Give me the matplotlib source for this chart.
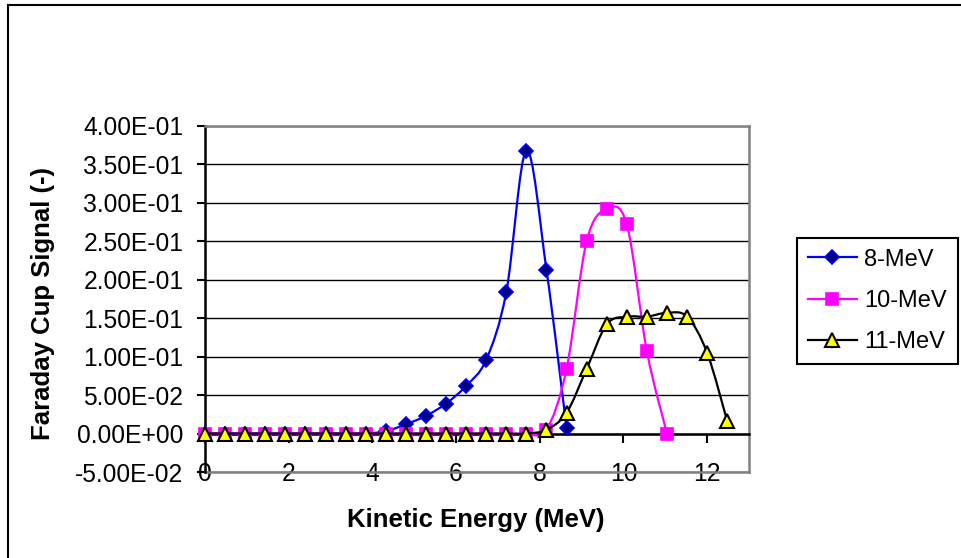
import matplotlib
matplotlib.use("Agg")
import matplotlib.pyplot as plt
from matplotlib.path import Path
from matplotlib.patches import PathPatch, Rectangle
from matplotlib.lines import Line2D

plt.rcParams['font.family'] = ['Liberation Sans', 'DejaVu Sans']

# kinetic energy bins (MeV)
energy = [0.00, 0.48, 0.96, 1.44, 1.92, 2.40, 2.88, 3.36, 3.84, 4.32,
          4.80, 5.28, 5.76, 6.24, 6.72, 7.20, 7.68, 8.16, 8.64, 9.12,
          9.60, 10.08, 10.56, 11.04, 11.52, 12.00, 12.48]

signal_8mev = [0, 0, 0, 0, 0, 0, 0, 0, 0, 0.003,
               0.012, 0.023, 0.039, 0.062, 0.096, 0.184, 0.368, 0.213, 0.0075]
signal_10mev = [0, 0, 0, 0, 0, 0, 0, 0, 0, 0,
                0, 0, 0, 0, 0, 0, 0, 0.005, 0.084, 0.250,
                0.292, 0.272, 0.107, 0.0]
signal_11mev = [0, 0, 0, 0, 0, 0, 0, 0, 0, 0,
                0, 0, 0, 0, 0, 0, 0, 0.005, 0.027, 0.084,
                0.142, 0.152, 0.152, 0.157, 0.152, 0.105, 0.016]

series_names = ['8-MeV', '10-MeV', '11-MeV']

x_ticks = [0, 2, 4, 6, 8, 10, 12]
y_ticks = [-0.05, 0.0, 0.05, 0.10, 0.15, 0.20, 0.25, 0.30, 0.35, 0.40]
y_tick_labels = ['-5.00E-02', '0.00E+00', '5.00E-02', '1.00E-01', '1.50E-01',
                 '2.00E-01', '2.50E-01', '3.00E-01', '3.50E-01', '4.00E-01']


def smooth_path(xs, ys):
    # excel-like smoothed line: cubic bezier through every point
    pts = list(zip(xs, ys))
    n = len(pts)
    verts = [pts[0]]
    codes = [Path.MOVETO]
    for i in range(n - 1):
        p0 = pts[i - 1] if i > 0 else pts[i]
        p1 = pts[i]
        p2 = pts[i + 1]
        p3 = pts[i + 2] if i + 2 < n else pts[i + 1]
        c1 = (p1[0] + (p2[0] - p0[0]) / 6, p1[1] + (p2[1] - p0[1]) / 6)
        c2 = (p2[0] - (p3[0] - p1[0]) / 6, p2[1] - (p3[1] - p1[1]) / 6)
        verts += [c1, c2, p2]
        codes += [Path.CURVE4] * 3
    return Path(verts, codes)


fig = plt.figure(figsize=(9.61, 5.58), dpi=100)
ax = fig.add_axes([205 / 961, 1 - 472 / 558, 544 / 961, 346 / 558])

styles = [
    dict(color='#0000FF', marker='D', ms=7.5, mfc='#000080', mec='#0000FF', mew=1.2),
    dict(color='#FF00FF', marker='s', ms=8.5, mfc='#FF00FF', mec='#FF00FF', mew=1.2),
    dict(color='#000000', marker='^', ms=10, mfc='#FFFF00', mec='#000000', mew=1.5),
]
all_series = [signal_8mev, signal_10mev, signal_11mev]

handles = []
for k, (vals, st) in enumerate(zip(all_series, styles)):
    xs = energy[:len(vals)]
    ax.add_patch(PathPatch(smooth_path(xs, vals), fill=False, edgecolor=st['color'],
                           lw=1.6, zorder=3 + 2 * k, clip_on=False))
    ax.plot(xs, vals, linestyle='none', marker=st['marker'], ms=st['ms'],
            mfc=st['mfc'], mec=st['mec'], mew=st['mew'], zorder=4 + 2 * k, clip_on=False)
    handles.append(Line2D([], [], color=st['color'], lw=1.6, marker=st['marker'],
                          ms=st['ms'], mfc=st['mfc'], mec=st['mec'], mew=st['mew']))

ax.set_xlim(0, 13)
ax.set_ylim(-0.05, 0.40)
ax.set_xticks(x_ticks)
ax.set_yticks(y_ticks)
ax.set_yticklabels(y_tick_labels)
ax.yaxis.grid(True, color='black', lw=1)

ax.spines['bottom'].set_position(('data', 0))
for s in ['bottom', 'left']:
    ax.spines[s].set_color('black')
    ax.spines[s].set_linewidth(1.8)
for s in ['top', 'right']:
    ax.spines[s].set_color('#808080')
    ax.spines[s].set_linewidth(1.8)
ax.axhline(-0.05, color='#808080', lw=1.8, clip_on=False, zorder=2.5)

ax.tick_params(axis='x', direction='out', length=6.5, width=1.5, pad=14, labelsize=17.7)
ax.tick_params(axis='y', direction='out', length=6, width=1.5, pad=9.5, labelsize=17.7)

ax.set_xlabel('Kinetic Energy (MeV)', fontsize=18.5, fontweight='bold')
ax.xaxis.set_label_coords(0.498, -0.105)
ax.set_ylabel('Faraday Cup Signal (-)', fontsize=18.5, fontweight='bold')
ax.yaxis.set_label_coords(-0.276, 0.488)

leg = ax.legend(handles, series_names, loc='upper left',
                bbox_to_anchor=(797 / 961, 1 - 238 / 558), bbox_transform=fig.transFigure,
                borderaxespad=0, frameon=True, fancybox=False, edgecolor='black',
                framealpha=1, fontsize=17, handlelength=2.1, handletextpad=0.3,
                labelspacing=0.82, borderpad=0.45)
leg.get_frame().set_linewidth(1.5)

# outer chart frame (only top and left edges fall inside the image)
fig.add_artist(Rectangle((8 / 961, -0.05), 1.2, 1.05 - 5 / 558, transform=fig.transFigure,
                         fill=False, edgecolor='black', lw=1.5))

fig.savefig('out.png', dpi=100)
